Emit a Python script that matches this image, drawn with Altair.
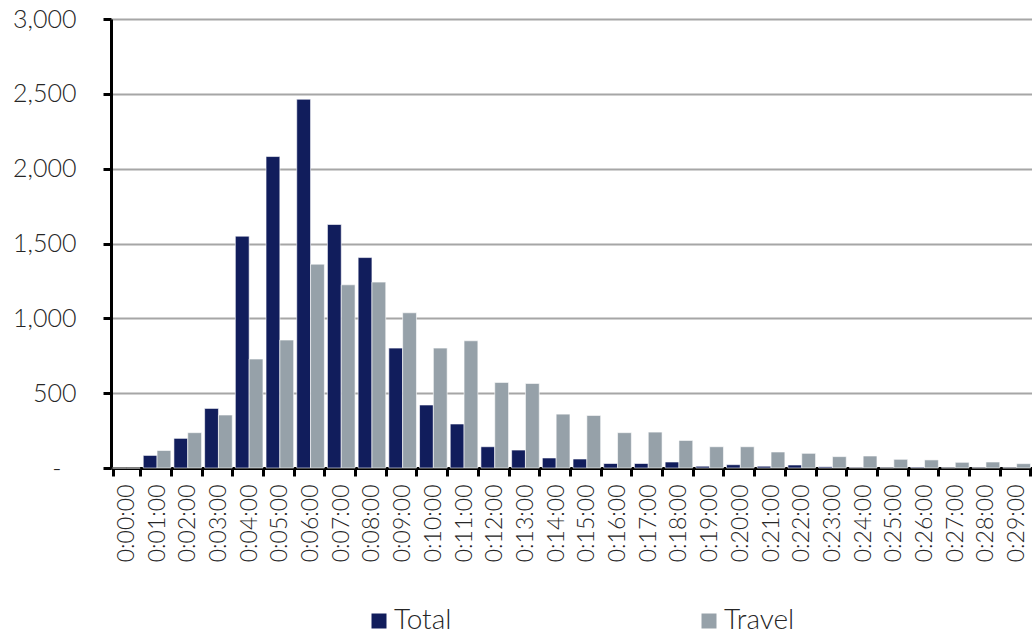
import altair as alt
import pandas as pd

# Minute buckets from 0:00:00 to 0:29:00
durations = [f"0:{m:02d}:00" for m in range(30)]

total = [0, 84, 198, 398, 1549, 2081, 2464, 1627, 1406, 801,
         421, 294, 142, 120, 67, 60, 30, 30, 40, 12,
         22, 12, 20, 8, 3, 2, 5, 2, 2, 2]
travel = [0, 117, 236, 354, 728, 855, 1362, 1224, 1242, 1037,
          801, 850, 572, 565, 360, 351, 236, 240, 184, 142,
          142, 107, 98, 76, 80, 58, 54, 38, 40, 29]

series = ["Total", "Travel"]
colors = ["#111d5c", "#96a1a9"]

rows = []
for d, t, v in zip(durations, total, travel):
    rows.append({"duration": d, "series": "Total", "count": t})
    rows.append({"duration": d, "series": "Travel", "count": v})
df = pd.DataFrame(rows)

FONT = "Lato"
TEXT = "#262626"

bars = alt.Chart(df).mark_bar(stroke="white", strokeWidth=0.6).encode(
    x=alt.X(
        "duration:N",
        sort=durations,
        title=None,
        scale=alt.Scale(paddingInner=0.1, paddingOuter=0.05),
        axis=alt.Axis(
            labelAngle=-90,
            labelFont=FONT,
            labelFontSize=23,
            labelFontWeight=300,
            labelColor=TEXT,
            labelPadding=8,
            labelBaseline="middle",
            labelAlign="right",
            tickBand="extent",
            tickColor="black",
            tickWidth=3,
            tickSize=8,
            domainColor="black",
            domainWidth=3,
            grid=False,
        ),
    ),
    xOffset=alt.XOffset("series:N", sort=series, scale=alt.Scale(paddingInner=0)),
    y=alt.Y(
        "count:Q",
        title=None,
        scale=alt.Scale(domain=[0, 3000], nice=False),
        axis=alt.Axis(
            values=[0, 500, 1000, 1500, 2000, 2500, 3000],
            # zero is shown as a dash, set in from the right like an accounting format
            labelExpr="datum.value == 0 ? '-' : format(datum.value, ',')",
            labelFont=FONT,
            labelFontSize=25,
            labelFontWeight=300,
            labelColor=TEXT,
            labelPadding={"condition": {"test": "datum.value == 0", "value": 42}, "value": 27},
            tickColor="black",
            tickWidth=3,
            tickSize=8,
            domainColor="black",
            domainWidth=3,
            gridColor="#a6a6a6",
            gridWidth=2,
        ),
    ),
    color=alt.Color(
        "series:N",
        sort=series,
        scale=alt.Scale(domain=series, range=colors),
        legend=alt.Legend(
            title=None,
            orient="none",
            direction="horizontal",
            legendX=254,
            legendY=588,
            symbolType="square",
            symbolSize=225,
            symbolStrokeWidth=0,
            symbolOpacity=1,
            labelFont=FONT,
            labelFontSize=28,
            labelFontWeight=300,
            labelColor=TEXT,
            labelOffset=1,
            columnPadding=243,
        ),
    ),
)

chart = bars.properties(
    width=921,
    height=449,
    autosize=alt.AutoSizeParams(type="none"),
    padding={"left": 111, "top": 19, "right": 0, "bottom": 166},
).configure_view(stroke=None).configure(background="white")

chart.save("out.html", embed_options={"renderer": "svg", "actions": False})
